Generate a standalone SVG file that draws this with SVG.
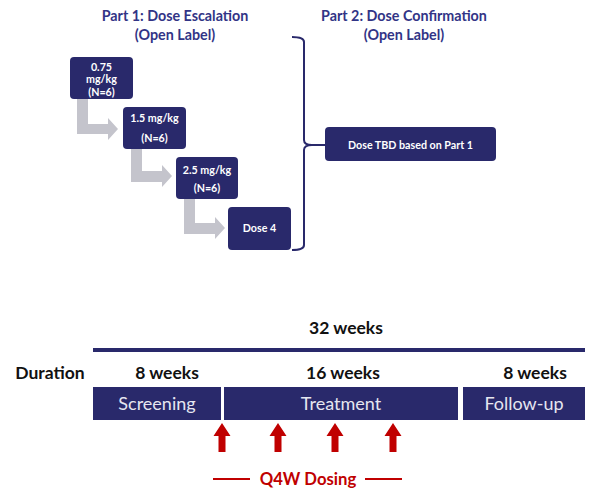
<svg xmlns="http://www.w3.org/2000/svg" width="590" height="490" viewBox="0 0 590 490">
<defs>
<style>
.title{font-family:Lato,"Open Sans","Liberation Sans",sans-serif;font-weight:bold;font-size:14.3px;fill:#323486;text-anchor:middle}
.box{fill:#29296b}
.bt{font-family:Lato,"Open Sans","Liberation Sans",sans-serif;font-weight:bold;font-size:10.7px;fill:#ffffff;text-anchor:middle}
.lbl{font-family:Lato,"Open Sans","Liberation Sans",sans-serif;font-weight:bold;font-size:17.5px;fill:#111111;text-anchor:middle}
.bar{fill:#29296b}
.bart{font-family:Lato,"Open Sans","Liberation Sans",sans-serif;font-size:18px;fill:#e6e6f0;text-anchor:middle}
.gray{fill:#c4c4cc}
.red{fill:#c00000}
</style>
</defs>
<text class="title" x="175" y="21">Part 1: Dose Escalation</text>
<text class="title" x="175" y="40">(Open Label)</text>
<text class="title" x="404" y="21">Part 2: Dose Confirmation</text>
<text class="title" x="404" y="40">(Open Label)</text>

<g id="connectors">
<path class="gray" d="M77,99 H88 V124 H108 V118 L118,129 L108,140 V134 H77 Z"/>
<path class="gray" d="M131,149 H142 V171 H162 V165 L172,176 L162,187 V182 H131 Z"/>
<path class="gray" d="M184,199 H195 V223 H215 V217 L225,228 L215,239 V234 H184 Z"/>
<path d="M292,37 Q304,37 304,42 V140 Q304,145 312,145 H325 M312,145 Q304,145 304,150 V245 Q304,250 292,250" fill="none" stroke="#29296b" stroke-width="2"/>
</g>

<g id="n1"><rect class="box" x="70" y="57" width="63" height="42" rx="4"/>
<text class="bt" x="101.5" y="71">0.75</text><text class="bt" x="101.5" y="83">mg/kg</text><text class="bt" x="101.5" y="95.5">(N=6)</text></g>
<g id="n2"><rect class="box" x="123" y="107" width="63" height="42" rx="4"/>
<text class="bt" x="154.5" y="122">1.5 mg/kg</text><text class="bt" x="154.5" y="142">(N=6)</text></g>
<g id="n3"><rect class="box" x="176" y="157" width="62" height="42" rx="4"/>
<text class="bt" x="207" y="174">2.5 mg/kg</text><text class="bt" x="207" y="192">(N=6)</text></g>
<g id="n4"><rect class="box" x="228" y="207" width="63" height="43" rx="4"/>
<text class="bt" x="259.5" y="232">Dose 4</text></g>
<g id="n5"><rect class="box" x="325" y="127" width="171" height="34" rx="4"/>
<text class="bt" x="410.5" y="148.5">Dose TBD based on Part 1</text></g>

<g id="timeline">
<text class="lbl" x="346" y="334">32 weeks</text>
<rect x="93" y="348" width="492" height="4" fill="#29296b"/>
<text class="lbl" x="50" y="379">Duration</text>
<text class="lbl" x="167" y="379">8 weeks</text>
<text class="lbl" x="343" y="379">16 weeks</text>
<text class="lbl" x="535" y="379">8 weeks</text>
<rect class="bar" x="93" y="387" width="128" height="33"/>
<text class="bart" x="157" y="410">Screening</text>
<rect class="bar" x="224" y="387" width="234" height="33"/>
<text class="bart" x="341" y="410">Treatment</text>
<rect class="bar" x="463" y="387" width="122" height="33"/>
<text class="bart" x="524" y="410">Follow-up</text>
<path class="red" d="M222,423 L230.5,436 H225.5 V452 H218.5 V436 H213.5 Z"/>
<path class="red" d="M278,423 L286.5,436 H281.5 V452 H274.5 V436 H269.5 Z"/>
<path class="red" d="M335,423 L343.5,436 H338.5 V452 H331.5 V436 H326.5 Z"/>
<path class="red" d="M393,423 L401.5,436 H396.5 V452 H389.5 V436 H384.5 Z"/>
<rect class="red" x="213" y="478" width="37" height="2"/>
<rect class="red" x="365" y="478" width="37" height="2"/>
<text x="308" y="484.5" font-family="Lato,'Open Sans','Liberation Sans',sans-serif" font-weight="bold" font-size="16.7" fill="#c00000" text-anchor="middle">Q4W Dosing</text>
</g>
</svg>
